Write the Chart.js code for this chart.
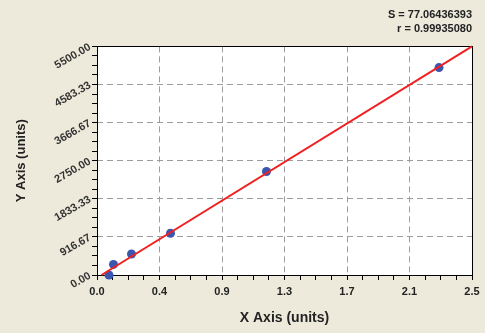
<!DOCTYPE html>
<html>
<head>
<meta charset="UTF-8">
<title>Standard curve</title>
<script src="https://cdn.jsdelivr.net/npm/chart.js"></script>
<style>
  html, body { margin: 0; padding: 0; background: #edeadb; }
  #box { width: 485px; height: 333px; }
</style>
</head>
<body>
<div id="box"><canvas id="grafico"></canvas></div>
<script>
// pontos medidos
var pontosX = [0.08, 0.11, 0.23, 0.49, 1.13, 2.28];
var pontosY = [0, 255, 505, 1005, 2490, 4990];

// reta ajustada (extremos)
var retaX = [0.03, 2.5];
var retaY = [0, 5500];

// eixos
var xMax = 2.5;
var yMax = 5500;
var xLabels = ['0.0', '0.4', '0.9', '1.3', '1.7', '2.1', '2.5'];
var yLabels = ['0.00', '916.67', '1833.33', '2750.00', '3666.67', '4583.33', '5500.00'];
var subdiv = 4;

var textoS = 'S = 77.06436393';
var textoR = 'r = 0.99935080';

function montaTicks(max, n) {
  var total = (n - 1) * subdiv;
  var lista = [];
  for (var i = 0; i <= total; i++) lista.push({ value: max * i / total });
  return lista;
}

var moldura = {
  id: 'moldura',
  beforeDatasetsDraw: function (chart) {
    var a = chart.chartArea, ctx = chart.ctx;
    ctx.save();
    ctx.strokeStyle = '#000';
    ctx.lineWidth = 1;
    ctx.strokeRect(Math.round(a.left) + 0.5, Math.round(a.top) + 0.5,
      Math.round(a.right - a.left), Math.round(a.bottom - a.top));
    ctx.restore();
  },
  beforeDraw: function (chart) {
    var a = chart.chartArea, ctx = chart.ctx;
    ctx.save();
    ctx.fillStyle = '#ffffff';
    ctx.fillRect(a.left, a.top, a.right - a.left, a.bottom - a.top);
    ctx.restore();
  }
};

var corGrade = function (c) {
  return (c.index % subdiv === 0) ? '#9c9c9c' : 'rgba(0,0,0,0)';
};

var config = {
  type: 'scatter',
  data: {
    datasets: [{
      label: 'reta',
      data: retaX.map(function (x, i) { return { x: x, y: retaY[i] }; }),
      showLine: true,
      borderColor: '#f02020',
      borderWidth: 2,
      pointRadius: 0,
      fill: false
    }, {
      label: 'pontos',
      data: pontosX.map(function (x, i) { return { x: x, y: pontosY[i] }; }),
      backgroundColor: '#3a56b0',
      borderColor: '#3a56b0',
      pointRadius: 4.5,
      pointBorderWidth: 0
    }]
  },
  options: {
    responsive: true,
    maintainAspectRatio: false,
    animation: false,
    clip: false,
    layout: { padding: { left: 0, right: 13, top: 0, bottom: 0 } },
    plugins: {
      legend: { display: false },
      tooltip: { enabled: false },
      title: {
        display: true, text: textoS, align: 'end', color: '#222',
        font: { family: 'Liberation Sans, Arial', size: 11, weight: 'bold' },
        padding: { top: 8, bottom: 0 }
      },
      subtitle: {
        display: true, text: textoR, align: 'end', color: '#222',
        font: { family: 'Liberation Sans, Arial', size: 11, weight: 'bold' },
        padding: { top: 1, bottom: 11 }
      }
    },
    scales: {
      x: {
        type: 'linear', min: 0, max: xMax,
        afterBuildTicks: function (s) { s.ticks = montaTicks(xMax, xLabels.length); },
        afterFit: function (s) { s.height = 58; },
        ticks: {
          autoSkip: false, maxRotation: 0, color: '#222', padding: 5,
          font: { family: 'Liberation Sans, Arial', size: 11, weight: 'bold' },
          callback: function (v, i) { return i % subdiv === 0 ? xLabels[i / subdiv] : ''; }
        },
        grid: { color: corGrade, tickColor: '#000', tickLength: 5, borderDash: [6, 4], tickBorderDash: [] },
        border: { display: false, dash: [6, 4] },
        title: {
          display: true, text: 'X Axis (units)', color: '#222',
          font: { family: 'Liberation Sans, Arial', size: 14, weight: 'bold' },
          padding: { top: 8, bottom: 6 }
        }
      },
      y: {
        type: 'linear', min: 0, max: yMax,
        afterBuildTicks: function (s) { s.ticks = montaTicks(yMax, yLabels.length); },
        afterFit: function (s) { s.width = 97; },
        ticks: {
          autoSkip: false, minRotation: 30, maxRotation: 30, color: '#333', padding: 2,
          font: { family: 'Liberation Sans, Arial', size: 11, weight: 'bold' },
          callback: function (v, i) { return i % subdiv === 0 ? yLabels[i / subdiv] : ''; }
        },
        grid: { color: corGrade, tickColor: '#000', tickLength: 5, borderDash: [6, 4], tickBorderDash: [] },
        border: { display: false, dash: [6, 4] },
        title: {
          display: true, text: 'Y Axis (units)', color: '#222',
          font: { family: 'Liberation Sans, Arial', size: 13, weight: 'bold' },
          padding: { top: 14, bottom: 0 }
        }
      }
    }
  },
  plugins: [moldura]
};

new Chart(document.getElementById('grafico'), config);
</script>
</body>
</html>
